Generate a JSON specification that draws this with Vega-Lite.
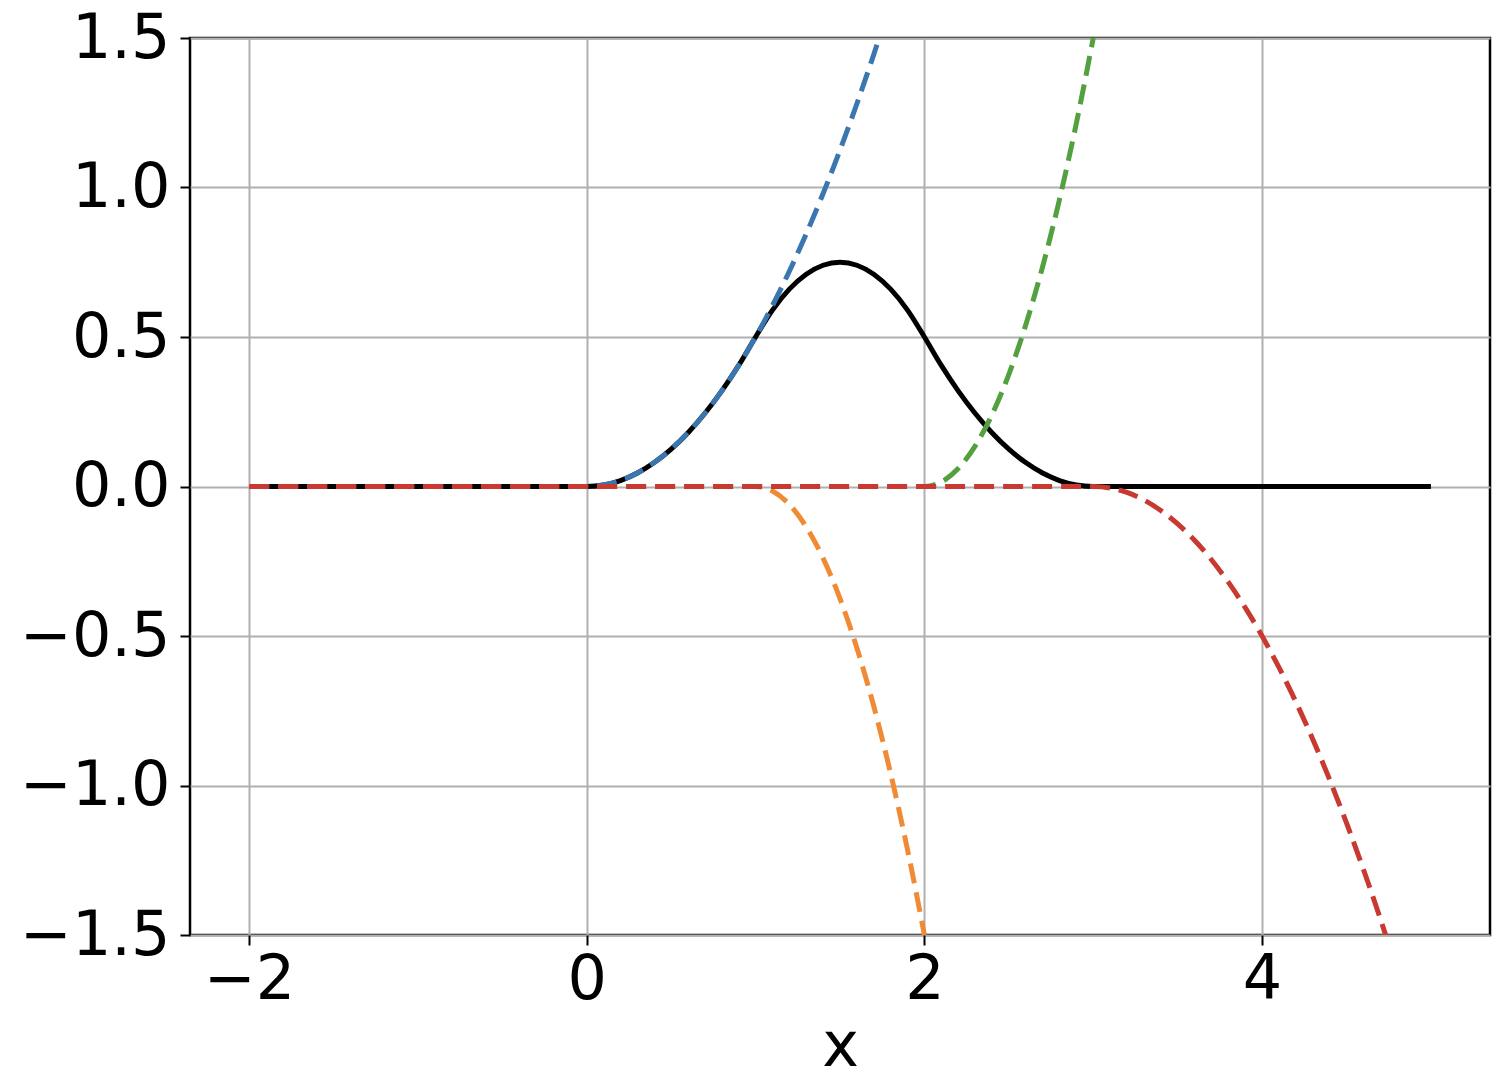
{
  "$schema": "https://vega.github.io/schema/vega-lite/v6.json",
  "width": 1300,
  "height": 897,
  "autosize": {"type": "none"},
  "padding": {"left": 190, "top": 38, "right": 22, "bottom": 145},
  "background": "white",
  "config": {
    "font": "DejaVu Sans",
    "view": {"stroke": "black", "strokeWidth": 2.5},
    "axis": {
      "domain": false,
      "grid": true,
      "gridColor": "#b0b0b0",
      "gridWidth": 2,
      "tickColor": "black",
      "tickWidth": 2,
      "tickSize": 10,
      "labelFont": "DejaVu Sans",
      "labelFontSize": 62,
      "labelColor": "black",
      "titleFont": "DejaVu Sans",
      "titleFontSize": 62,
      "titleFontWeight": "normal",
      "titleColor": "black"
    }
  },
  "datasets": {
    "pts": [
      {"s": "B", "x": -2, "y": 0}, {"s": "B", "x": 0, "y": 0},
      {"s": "B", "x": 0.1, "y": 0.005}, {"s": "B", "x": 0.2, "y": 0.02}, {"s": "B", "x": 0.3, "y": 0.045},
      {"s": "B", "x": 0.4, "y": 0.08}, {"s": "B", "x": 0.5, "y": 0.125}, {"s": "B", "x": 0.6, "y": 0.18},
      {"s": "B", "x": 0.7, "y": 0.245}, {"s": "B", "x": 0.8, "y": 0.32}, {"s": "B", "x": 0.9, "y": 0.405},
      {"s": "B", "x": 1.0, "y": 0.5}, {"s": "B", "x": 1.1, "y": 0.59}, {"s": "B", "x": 1.2, "y": 0.66},
      {"s": "B", "x": 1.3, "y": 0.71}, {"s": "B", "x": 1.4, "y": 0.74}, {"s": "B", "x": 1.5, "y": 0.75},
      {"s": "B", "x": 1.6, "y": 0.74}, {"s": "B", "x": 1.7, "y": 0.71}, {"s": "B", "x": 1.8, "y": 0.66},
      {"s": "B", "x": 1.9, "y": 0.59}, {"s": "B", "x": 2.0, "y": 0.5}, {"s": "B", "x": 2.1, "y": 0.405},
      {"s": "B", "x": 2.2, "y": 0.32}, {"s": "B", "x": 2.3, "y": 0.245}, {"s": "B", "x": 2.4, "y": 0.18},
      {"s": "B", "x": 2.5, "y": 0.125}, {"s": "B", "x": 2.6, "y": 0.08}, {"s": "B", "x": 2.7, "y": 0.045},
      {"s": "B", "x": 2.8, "y": 0.02}, {"s": "B", "x": 2.9, "y": 0.005}, {"s": "B", "x": 3.0, "y": 0},
      {"s": "B", "x": 5.0, "y": 0},

      {"s": "T0", "x": -2, "y": 0}, {"s": "T0", "x": 0, "y": 0},
      {"s": "T0", "x": 0.1, "y": 0.005}, {"s": "T0", "x": 0.2, "y": 0.02}, {"s": "T0", "x": 0.3, "y": 0.045},
      {"s": "T0", "x": 0.4, "y": 0.08}, {"s": "T0", "x": 0.5, "y": 0.125}, {"s": "T0", "x": 0.6, "y": 0.18},
      {"s": "T0", "x": 0.7, "y": 0.245}, {"s": "T0", "x": 0.8, "y": 0.32}, {"s": "T0", "x": 0.9, "y": 0.405},
      {"s": "T0", "x": 1.0, "y": 0.5}, {"s": "T0", "x": 1.1, "y": 0.605}, {"s": "T0", "x": 1.2, "y": 0.72},
      {"s": "T0", "x": 1.3, "y": 0.845}, {"s": "T0", "x": 1.4, "y": 0.98}, {"s": "T0", "x": 1.5, "y": 1.125},
      {"s": "T0", "x": 1.6, "y": 1.28}, {"s": "T0", "x": 1.7, "y": 1.445}, {"s": "T0", "x": 1.8, "y": 1.62},

      {"s": "T1", "x": -2, "y": 0}, {"s": "T1", "x": 1.0, "y": 0},
      {"s": "T1", "x": 1.1, "y": -0.015}, {"s": "T1", "x": 1.2, "y": -0.06}, {"s": "T1", "x": 1.3, "y": -0.135},
      {"s": "T1", "x": 1.4, "y": -0.24}, {"s": "T1", "x": 1.5, "y": -0.375}, {"s": "T1", "x": 1.6, "y": -0.54},
      {"s": "T1", "x": 1.7, "y": -0.735}, {"s": "T1", "x": 1.8, "y": -0.96}, {"s": "T1", "x": 1.9, "y": -1.215},
      {"s": "T1", "x": 2.0, "y": -1.5},

      {"s": "T2", "x": -2, "y": 0}, {"s": "T2", "x": 2.0, "y": 0},
      {"s": "T2", "x": 2.1, "y": 0.015}, {"s": "T2", "x": 2.2, "y": 0.06}, {"s": "T2", "x": 2.3, "y": 0.135},
      {"s": "T2", "x": 2.4, "y": 0.24}, {"s": "T2", "x": 2.5, "y": 0.375}, {"s": "T2", "x": 2.6, "y": 0.54},
      {"s": "T2", "x": 2.7, "y": 0.735}, {"s": "T2", "x": 2.8, "y": 0.96}, {"s": "T2", "x": 2.9, "y": 1.215},
      {"s": "T2", "x": 3.0, "y": 1.5},

      {"s": "T3", "x": -2, "y": 0}, {"s": "T3", "x": 3.0, "y": 0},
      {"s": "T3", "x": 3.1, "y": -0.005}, {"s": "T3", "x": 3.2, "y": -0.02}, {"s": "T3", "x": 3.3, "y": -0.045},
      {"s": "T3", "x": 3.4, "y": -0.08}, {"s": "T3", "x": 3.5, "y": -0.125}, {"s": "T3", "x": 3.6, "y": -0.18},
      {"s": "T3", "x": 3.7, "y": -0.245}, {"s": "T3", "x": 3.8, "y": -0.32}, {"s": "T3", "x": 3.9, "y": -0.405},
      {"s": "T3", "x": 4.0, "y": -0.5}, {"s": "T3", "x": 4.1, "y": -0.605}, {"s": "T3", "x": 4.2, "y": -0.72},
      {"s": "T3", "x": 4.3, "y": -0.845}, {"s": "T3", "x": 4.4, "y": -0.98}, {"s": "T3", "x": 4.5, "y": -1.125},
      {"s": "T3", "x": 4.6, "y": -1.28}, {"s": "T3", "x": 4.7, "y": -1.445}, {"s": "T3", "x": 4.8, "y": -1.62}
    ]
  },
  "data": {"name": "pts"},
  "encoding": {
    "x": {
      "field": "x", "type": "quantitative",
      "scale": {"domain": [-2.35, 5.35], "nice": false, "zero": false},
      "axis": {"values": [-2, 0, 2, 4], "format": "d", "title": "x", "labelPadding": 4, "titlePadding": 6}
    },
    "y": {
      "field": "y", "type": "quantitative",
      "scale": {"domain": [-1.5, 1.5], "nice": false, "zero": false},
      "axis": {"values": [-1.5, -1.0, -0.5, 0, 0.5, 1.0, 1.5], "format": ".1f", "title": null, "labelPadding": 10}
    }
  },
  "layer": [
    {"transform": [{"filter": "datum.s === 'B'"}], "mark": {"type": "line", "clip": true, "color": "black", "strokeWidth": 5, "interpolate": "monotone"}},
    {"transform": [{"filter": "datum.s === 'T0'"}], "mark": {"type": "line", "clip": true, "color": "#3a76b0", "strokeWidth": 5, "strokeDash": [20, 9], "interpolate": "monotone"}},
    {"transform": [{"filter": "datum.s === 'T1'"}], "mark": {"type": "line", "clip": true, "color": "#f08a34", "strokeWidth": 5, "strokeDash": [20, 9], "interpolate": "monotone"}},
    {"transform": [{"filter": "datum.s === 'T2'"}], "mark": {"type": "line", "clip": true, "color": "#53a03f", "strokeWidth": 5, "strokeDash": [20, 9], "interpolate": "monotone"}},
    {"transform": [{"filter": "datum.s === 'T3'"}], "mark": {"type": "line", "clip": true, "color": "#c83a31", "strokeWidth": 5, "strokeDash": [20, 9], "interpolate": "monotone"}}
  ]
}
